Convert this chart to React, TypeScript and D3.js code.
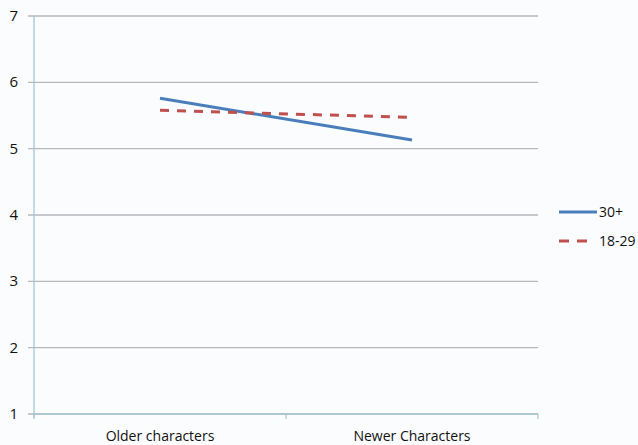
import React from "react";
import * as d3 from "d3";

const categories = ["Older characters", "Newer Characters"];
const series30 = [5.76, 5.13];
const series1829 = [5.58, 5.47];
const yTicks = [1, 2, 3, 4, 5, 6, 7];
const seriesNames = ["30+", "18-29"];

const W = 638;
const H = 445;
const left = 34;
const right = 538;
const top = 16;
const bottom = 414;

export default function App() {
  const x = d3.scaleBand<string>().domain(categories).range([left, right]);
  const y = d3.scaleLinear().domain([1, 7]).range([bottom, top]);
  const line = d3
    .line<number>()
    .x((_, i) => (x(categories[i]) as number) + x.bandwidth() / 2)
    .y((d) => y(d));
  const font = "Open Sans, Liberation Sans, sans-serif";
  const tickXs = [left, ...categories.map((c) => (x(c) as number) + x.bandwidth())];
  return (
    <svg
      width={W}
      height={H}
      style={{ position: "absolute", left: 0, top: 0, background: "#fbfcfe" }}
      fontFamily={font}
    >
      {yTicks.map((t) => (
        <g key={t}>
          <line x1={left - 6} x2={right} y1={y(t)} y2={y(t)} stroke="#b3b9bc" strokeWidth={1.3} />
          <text x={18} y={y(t) + 5} textAnchor="end" fontSize={15} fontWeight={500} fill="#111">
            {t}
          </text>
        </g>
      ))}
      <line x1={left} x2={left} y1={top} y2={bottom + 4} stroke="#a7c6d3" strokeWidth={1.3} />
      <line x1={left} x2={right} y1={bottom} y2={bottom} stroke="#a7c6d3" strokeWidth={1.3} />
      {tickXs.map((tx, i) => (
        <line key={i} x1={tx} x2={tx} y1={bottom} y2={bottom + 5} stroke="#a7c6d3" strokeWidth={1.2} />
      ))}
      {categories.map((c) => (
        <text
          key={c}
          x={(x(c) as number) + x.bandwidth() / 2}
          y={441}
          textAnchor="middle"
          fontSize={14}
          fontWeight={500}
          fill="#111"
        >
          {c}
        </text>
      ))}
      <path d={line(series30) || ""} fill="none" stroke="#4a7ebb" strokeWidth={3} />
      <path
        d={line(series1829) || ""}
        fill="none"
        stroke="#c0504d"
        strokeWidth={3}
        strokeDasharray="9,8"
      />
      <line x1={559} x2={597} y1={212} y2={212} stroke="#4a7ebb" strokeWidth={3} />
      <text x={599} y={217} fontSize={14} fontWeight={500} fill="#111">
        {seriesNames[0]}
      </text>
      <line x1={559} x2={588} y1={241} y2={241} stroke="#c0504d" strokeWidth={3} strokeDasharray="10,8" />
      <text x={599} y={246} fontSize={14} fontWeight={500} fill="#111">
        {seriesNames[1]}
      </text>
    </svg>
  );
}
